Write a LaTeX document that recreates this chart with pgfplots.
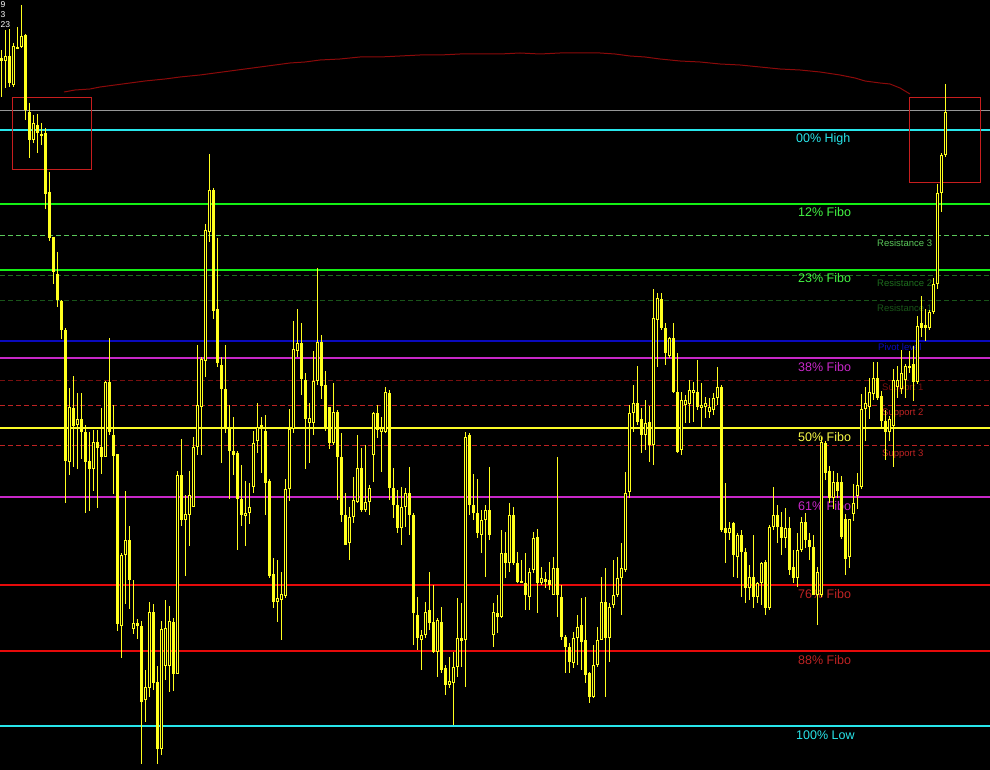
\documentclass[border=0pt]{standalone}
\usepackage{pgfplots}
\usepackage{pgfplotstable}
\pgfplotsset{compat=1.18}
\usepackage{fontspec}
\setmainfont{Liberation Sans}
\definecolor{cy}{RGB}{40,230,235}
\definecolor{lime}{RGB}{20,240,20}
\definecolor{rgreen}{RGB}{90,200,90}
\definecolor{dgreen}{RGB}{30,110,30}
\definecolor{ddgreen}{RGB}{25,85,25}
\definecolor{pblue}{RGB}{10,10,190}
\definecolor{mag}{RGB}{200,40,200}
\definecolor{yel}{RGB}{250,250,40}
\definecolor{dred}{RGB}{120,15,15}
\definecolor{mred}{RGB}{190,35,35}
\definecolor{fred}{RGB}{230,10,10}
\definecolor{boxred}{RGB}{200,30,30}
\definecolor{arcred}{RGB}{140,10,10}
\definecolor{gry}{RGB}{150,150,150}
\definecolor{cand}{RGB}{255,255,30}

% x hi lo bt bb h (h=1 hollow, 0 filled) -- pixel rows
\pgfplotstableread{
x hi lo bt bb h
1 50 97 58 61 0
5 30 88 56 61 1
9 29 87 56 83 0
13 43 87 46 85 1
17 27 49 47 49 0
21 5 48 36 47 1
25 34 120 35 110 0
29 103 158 112 140 0
33 115 143 123 140 1
37 114 153 125 133 0
41 123 145 134 136 0
45 128 209 133 194 0
49 172 241 192 238 0
53 237 284 237 272 0
57 252 307 274 300 0
61 300 339 301 330 0
65 328 503 330 461 0
69 388 475 407 462 1
73 376 467 408 426 0
77 393 469 419 425 1
81 393 459 419 432 0
85 425 513 432 462 0
89 432 511 461 469 0
93 430 491 442 469 1
97 430 508 442 448 0
101 408 474 447 457 0
105 381 457 382 457 1
109 338 435 382 432 0
113 405 494 435 456 0
117 454 631 454 624 0
121 553 658 555 626 1
125 491 604 540 555 1
129 526 609 540 580 0
133 580 634 623 629 1
137 619 639 623 626 0
141 621 764 626 702 0
145 670 722 687 700 1
149 602 697 612 688 1
153 604 690 612 683 0
157 666 764 682 749 0
161 621 755 629 749 1
165 600 680 628 666 1
169 606 692 621 666 1
173 618 691 622 674 0
177 471 674 475 674 1
181 439 526 475 520 0
185 495 576 514 520 1
189 471 546 495 515 1
193 437 507 447 507 1
197 345 455 405 447 1
201 357 455 359 407 1
205 224 377 230 361 1
209 154 242 190 232 1
213 188 319 190 311 0
217 238 367 309 363 0
221 357 463 365 389 0
225 345 433 389 429 0
229 405 499 427 451 0
233 417 475 451 455 0
237 451 550 453 499 0
241 465 526 499 515 0
245 481 546 513 516 1
249 483 524 507 513 1
253 431 493 443 487 1
257 403 453 427 441 1
261 417 473 425 429 0
265 415 515 431 483 0
269 479 578 481 576 0
273 558 608 574 602 0
277 560 622 598 602 1
281 572 640 594 600 1
285 479 598 489 596 1
289 409 501 429 489 1
293 321 433 349 429 1
297 309 357 343 351 1
301 323 395 343 379 0
305 373 469 380 419 0
309 403 463 418 423 1
313 351 435 381 423 1
317 268 385 342 381 1
321 335 399 342 386 0
325 371 431 385 429 0
329 407 449 407 443 0
333 383 445 412 443 1
337 410 500 412 457 0
341 433 522 457 515 0
345 493 545 515 545 0
349 507 560 517 543 1
353 477 523 500 517 1
357 435 503 468 502 1
361 448 512 468 510 0
365 445 512 502 510 1
369 485 515 488 502 1
373 412 482 413 455 1
377 405 438 413 430 0
381 417 472 428 432 1
385 387 433 392 432 1
389 390 500 393 488 0
393 468 518 488 505 0
397 490 533 505 528 0
401 487 545 507 528 1
405 488 527 493 507 1
409 467 535 493 515 0
413 513 645 515 613 0
417 597 650 615 638 0
421 630 670 635 640 1
425 602 638 612 635 1
429 572 630 610 623 0
433 585 653 622 652 0
437 618 677 620 652 1
441 607 673 622 670 0
445 665 695 668 685 0
449 657 688 681 685 1
453 652 725 667 683 1
457 598 677 638 667 1
461 603 667 638 641 0
465 432 687 437 640 1
469 433 515 435 505 0
473 474 520 505 513 0
477 479 538 513 533 0
481 510 553 520 535 1
485 505 577 510 520 1
489 467 540 510 535 0
493 603 647 612 635 1
497 595 633 613 617 0
501 530 618 553 617 1
505 532 578 553 563 0
509 503 572 515 563 1
513 507 565 515 563 0
517 552 583 563 582 0
521 560 583 581 583 1
525 553 610 583 595 0
529 568 610 572 597 1
533 532 573 538 570 1
537 529 613 537 583 0
541 567 585 578 583 1
545 572 588 579 582 0
549 562 590 580 585 0
553 557 595 568 595 1
557 457 617 568 595 0
561 585 640 597 637 0
565 635 673 637 647 0
569 643 673 647 662 0
573 632 668 638 663 1
577 615 665 627 638 1
581 598 670 625 642 0
585 597 683 640 675 0
589 672 703 673 697 0
593 645 698 665 697 1
597 627 667 640 665 1
601 577 640 602 640 1
605 568 697 602 638 0
609 603 662 607 638 1
613 560 608 595 605 1
617 557 597 578 595 1
621 543 615 568 578 1
625 472 572 493 570 1
629 405 498 413 492 1
633 385 432 403 413 1
637 366 425 403 422 0
641 408 453 419 435 0
645 400 450 423 435 1
649 406 462 422 445 0
653 289 465 318 445 1
657 293 367 298 320 1
661 293 330 299 328 0
665 323 365 328 353 0
669 337 358 338 356 1
673 323 393 338 392 0
677 353 453 392 452 0
681 392 455 400 450 1
685 395 423 400 405 1
689 380 423 390 404 1
693 382 422 390 393 1
697 360 410 392 407 0
701 383 427 405 408 1
705 397 418 403 407 1
709 398 418 407 412 1
713 393 415 398 410 1
717 367 405 387 398 1
721 385 532 387 530 0
725 483 563 528 533 0
729 522 540 528 533 1
733 522 577 523 555 0
737 533 578 535 557 1
741 530 597 535 552 0
745 548 603 552 588 0
749 565 600 577 588 1
753 535 608 577 597 0
757 582 603 583 597 1
761 562 605 563 583 1
765 560 615 562 608 0
769 525 610 527 608 1
773 487 530 515 527 1
777 505 543 515 527 0
781 512 555 527 538 0
785 508 548 528 538 1
789 517 575 528 570 0
793 550 583 567 578 0
797 533 587 550 578 1
801 517 552 522 550 1
805 513 548 522 540 0
809 533 560 540 547 0
813 535 595 547 595 0
817 567 625 572 595 1
821 437 597 442 595 1
825 441 480 443 473 0
829 466 503 471 498 0
833 471 509 482 498 1
837 473 498 482 491 0
841 476 539 482 537 0
845 514 575 519 559 0
849 519 568 519 557 1
853 484 521 503 514 1
857 473 509 485 496 1
861 394 489 409 487 1
865 387 441 403 409 1
869 378 419 392 407 1
873 362 400 378 394 1
877 362 400 378 398 0
881 391 428 396 421 0
885 410 460 421 432 0
889 416 441 419 432 1
893 369 467 380 426 1
897 366 398 380 387 1
901 350 394 373 389 1
905 364 398 366 380 1
909 351 373 366 368 1
913 346 401 364 382 0
917 316 384 326 382 1
921 296 337 323 328 0
925 309 341 325 328 0
929 310 330 312 328 1
933 278 314 284 312 1
937 184 289 193 284 1
941 153 212 155 193 1
945 84 157 112 155 1
}\candles

\begin{document}
\begin{tikzpicture}
\useasboundingbox (0,0) rectangle (990pt,770pt);
\clip (0,0) rectangle (990pt,770pt);
\fill[black] (0,0) rectangle (990pt,770pt);
\begin{axis}[
  width=990pt, height=770pt, scale only axis,
  xmin=0, xmax=990, ymin=0, ymax=770, y dir=reverse,
  axis lines=none, ticks=none, clip=true,
]
% arc
\addplot[arcred, line width=1pt] coordinates {
(64,92) (75,90) (90,89) (100,87) (115,85) (130,83) (145,81) (165,79) (180,77) (200,75)
(215,73) (230,71) (245,69) (260,67) (275,65) (290,63) (305,62) (320,60) (340,59) (360,57)
(380,57) (400,56) (420,55) (440,55) (460,54) (480,54) (500,54) (520,53) (540,54) (560,53)
(580,53) (600,53) (615,54) (630,56) (645,57) (660,59) (680,61) (700,62) (720,64) (740,65)
(760,67) (780,69) (800,70) (820,72) (840,75) (855,78) (865,81) (880,83) (890,84) (900,88) (910,94)};
% horizontal levels
\addplot[gry, line width=1pt] coordinates {(0,111) (990,111)};
\addplot[cy, line width=2pt] coordinates {(0,130) (990,130)};
\addplot[lime, line width=2pt] coordinates {(0,204) (990,204)};
\addplot[rgreen, line width=1pt, dash pattern=on 5pt off 3pt] coordinates {(0,236) (990,236)};
\addplot[lime, line width=2pt] coordinates {(0,270) (990,270)};
\addplot[dgreen, line width=1pt, dash pattern=on 5pt off 3pt] coordinates {(0,276) (990,276)};
\addplot[ddgreen, line width=1pt, dash pattern=on 5pt off 3pt] coordinates {(0,300) (990,300)};
\addplot[pblue, line width=1.5pt] coordinates {(0,341) (990,341)};
\addplot[mag, line width=2pt] coordinates {(0,358) (990,358)};
\addplot[dred, line width=1pt, dash pattern=on 5pt off 3pt] coordinates {(0,380) (990,380)};
\addplot[mred, line width=1pt, dash pattern=on 5pt off 3pt] coordinates {(0,405) (990,405)};
\addplot[yel, line width=2pt] coordinates {(0,428) (990,428)};
\addplot[mred, line width=1pt, dash pattern=on 5pt off 3pt] coordinates {(0,445) (990,445)};
\addplot[mag, line width=2pt] coordinates {(0,497) (990,497)};
\addplot[fred, line width=2pt] coordinates {(0,585) (990,585)};
\addplot[fred, line width=2pt] coordinates {(0,651) (990,651)};
\addplot[cy, line width=2pt] coordinates {(0,726) (990,726)};
% rectangles
\addplot[boxred, line width=1pt] coordinates {(12,98) (91,98) (91,170) (12,170) (12,98)};
\addplot[boxred, line width=1pt] coordinates {(909,98) (980,98) (980,183) (909,183) (909,98)};
% labels
\begin{scope}[font=\fontsize{12.5}{14}\selectfont, inner sep=0pt]
\node[anchor=base west, text=cy] at (796,143) {00\% High};
\node[anchor=base west, text=lime!80!white] at (798,217) {12\% Fibo};
\node[anchor=base west, text=lime!80!white] at (798,283) {23\% Fibo};
\node[anchor=base west, text=mag] at (798,371) {38\% Fibo};
\node[anchor=base west, text=yel!85!white] at (798,441) {50\% Fibo};
\node[anchor=base west, text=mag] at (798,510) {61\% Fibo};
\node[anchor=base west, text=mred] at (798,598) {76\% Fibo};
\node[anchor=base west, text=mred] at (798,664) {88\% Fibo};
\node[anchor=base west, text=cy] at (796,739) {100\% Low};
\end{scope}
\begin{scope}[font=\fontsize{9.5}{11}\selectfont, inner sep=0pt]
\node[anchor=base west, text=rgreen] at (877,247) {Resistance 3};
\node[anchor=base west, text=dgreen] at (877,287) {Resistance 2};
\node[anchor=base west, text=ddgreen] at (877,311) {Resistance 1};
\node[anchor=base west, text=pblue] at (878,350) {Pivot level};
\node[anchor=base west, text=dred] at (882,390) {Support 1};
\node[anchor=base west, text=mred] at (882,415) {Support 2};
\node[anchor=base west, text=mred] at (882,456) {Support 3};
\end{scope}
\begin{scope}[font=\fontsize{8.5}{9}\selectfont, inner sep=0pt, text=white]
\node[anchor=base west] at (0.5,8) {9};
\node[anchor=base west] at (0.5,18) {3};
\node[anchor=base west] at (0.5,28) {23};
\end{scope}
% candles: wicks, bodies, hollow interiors
\addplot[cand, line width=1pt, quiver={u=0, v=\thisrow{lo}-\thisrow{hi}}] table[x=x, y=hi] {\candles};
\addplot[cand, line width=3pt, quiver={u=0, v={max(\thisrow{bb}-\thisrow{bt},1)}}] table[x=x, y=bt] {\candles};
\addplot[black, line width=1pt, quiver={u=0, v={\thisrow{h}*max(\thisrow{bb}-\thisrow{bt}-2,0)}}] table[x=x, y expr=\thisrow{bt}+1] {\candles};
\end{axis}
\end{tikzpicture}
\end{document}
